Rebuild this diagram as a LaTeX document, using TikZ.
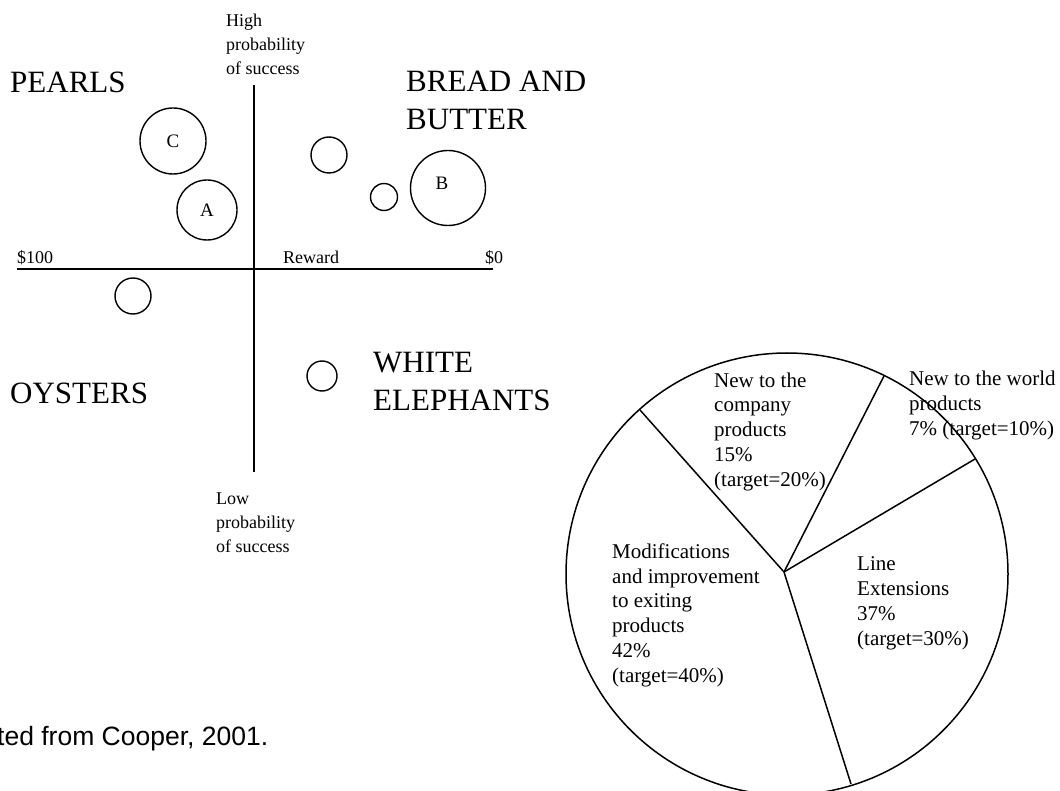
\documentclass[tikz,border=0pt]{standalone}
\usepackage{fontspec}
\setmainfont{Liberation Serif}
\newfontfamily\arialf{Liberation Sans}
\tikzset{
  bub/.style={draw, circle, line width=1.4pt, inner sep=0pt},
  lettertxt/.style={font=\fontsize{19}{24}\selectfont, inner sep=0pt},
  smalltxt/.style={font=\fontsize{18}{24}\selectfont, inner sep=0pt, align=left, anchor=base west},
  bigtxt/.style={font=\fontsize{31}{38}\selectfont, inner sep=0pt, align=left, anchor=base west},
  pietxt/.style={font=\fontsize{21}{24.7}\selectfont, inner sep=0pt, align=left, anchor=base west},
  axisline/.style={line width=1.8pt},
  pieline/.style={line width=1.5pt},
}
\begin{document}
\begin{tikzpicture}[x=1pt,y=-1pt]
\useasboundingbox (0,0) rectangle (1060,791);
% axes
\coordinate (vtop) at (254,85);
\coordinate (vbot) at (254,472);
\coordinate (hleft) at (17,269);
\coordinate (hright) at (493,269);
\draw[axisline] (vtop) -- (vbot);
\draw[axisline] (hleft) -- (hright);
% axis labels (anchor = baseline of the last line)
\node[smalltxt] (high) at (226,75) {High\\probability\\of success};
\node[smalltxt] (low) at (216,552) {Low\\probability\\of success};
\node[smalltxt] (d100) at (17,264) {\$100};
\node[smalltxt] (reward) at (283,264) {Reward};
\node[smalltxt] (d0) at (485,264) {\$0};
% quadrant names
\node[bigtxt] (pearls) at (10,93) {PEARLS};
\node[bigtxt] (bread) at (406,130) {BREAD AND\\BUTTER};
\node[bigtxt] (oysters) at (10,403) {OYSTERS};
\node[bigtxt] (white) at (373,410) {WHITE\\ELEPHANTS};
% bubbles
\node[bub, minimum size=66pt, lettertxt] (bc) at (173,141) {C};
\node[bub, minimum size=60pt, lettertxt] (ba) at (207,210) {A};
\node[bub, minimum size=36pt] (b1) at (329,155) {};
\node[bub, minimum size=27pt] (b2) at (384,197) {};
\node[bub, minimum size=75pt] (bb) at (448,188) {};
\node[lettertxt] (bblabel) at (442,183) {B};
\node[bub, minimum size=36pt] (b3) at (133,296) {};
\node[bub, minimum size=30pt] (b4) at (322,376) {};
% pie chart
\node[draw, circle, pieline, minimum size=442pt, inner sep=0pt] (pie) at (787,574) {};
\coordinate (hub) at (784,572);
\coordinate (s1) at (640,410);
\coordinate (s2) at (884,376);
\coordinate (s3) at (975,459);
\coordinate (s4) at (851,784);
\draw[pieline] (hub) -- (s1);
\draw[pieline] (hub) -- (s2);
\draw[pieline] (hub) -- (s3);
\draw[pieline] (hub) -- (s4);
\node[pietxt] (pcomp) at (714,486) {New to the\\company\\products\\15\%\\(target=20\%)};
\node[pietxt] (pworld) at (909,435) {New to the world\\products\\7\% (target=10\%)};
\node[pietxt] (pmod) at (612,682) {Modifications\\and improvement\\to exiting\\products\\42\%\\(target=40\%)};
\node[pietxt] (pline) at (857,645) {Line\\Extensions\\37\%\\(target=30\%)};
% source
\node[font=\arialf\fontsize{26.5}{30}\selectfont, inner sep=0pt, anchor=base west] (src) at (-3,745) {ted from Cooper, 2001.};
\end{tikzpicture}
\end{document}
